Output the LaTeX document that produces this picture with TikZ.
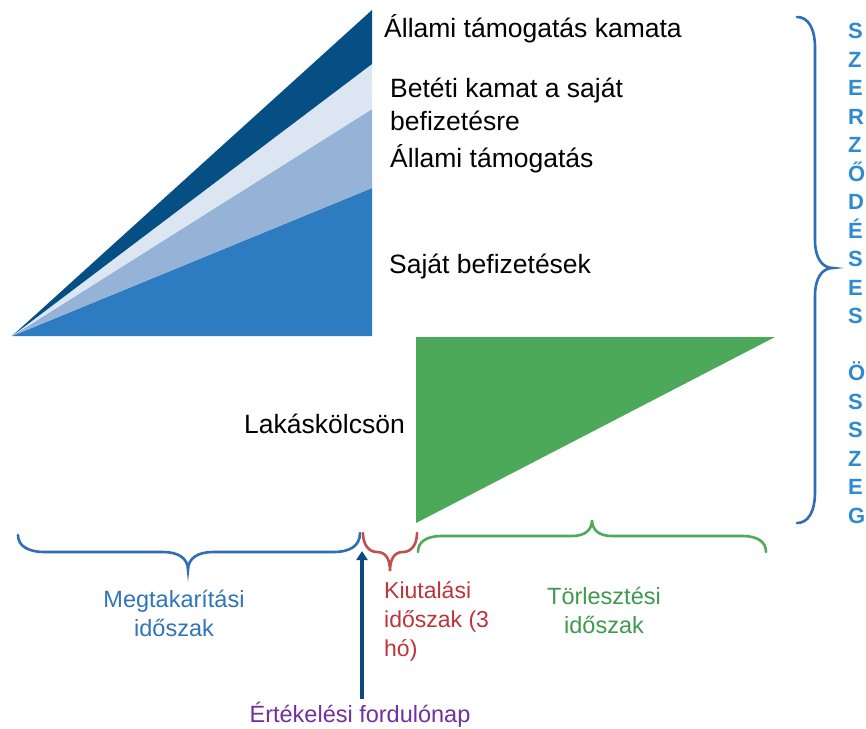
\documentclass[tikz,border=0pt]{standalone}
\usepackage{fontspec}
\setmainfont{Liberation Sans}
\usetikzlibrary{arrows.meta}
\definecolor{navy}{HTML}{064F85}
\definecolor{lightblue}{HTML}{DCE6F2}
\definecolor{medblue}{HTML}{95B3D7}
\definecolor{mainblue}{HTML}{2D7BC0}
\definecolor{fillgreen}{HTML}{4DA95A}
\definecolor{braceblue}{HTML}{2F6EB4}
\definecolor{bracered}{HTML}{C0504D}
\definecolor{bracegreen}{HTML}{4CAA58}
\definecolor{txtblue}{HTML}{2F75B8}
\definecolor{txtred}{HTML}{BE343A}
\definecolor{txtgreen}{HTML}{3E9A4C}
\definecolor{txtpurple}{HTML}{7030A0}
\definecolor{lettblue}{HTML}{2E8BCF}
\definecolor{arrownavy}{HTML}{0B4A7C}
\tikzset{
  toplab/.style={anchor=base west, inner sep=0pt, align=left, font=\fontsize{26.5}{33}\selectfont},
  botlab/.style={anchor=base, inner sep=0pt, align=center, font=\fontsize{23.5}{28.5}\selectfont},
  bracestyle/.style={line width=2.6pt, line cap=round},
}
\begin{document}
\begin{tikzpicture}[x=1pt,y=-1pt]
\useasboundingbox (0,0) rectangle (866,728);
\fill[white] (0,0) rectangle (866,728);
% stacked savings triangle
\fill[mainblue] (12,336) -- (372,188) -- (372,336) -- cycle;
\fill[medblue] (12,336) -- (372,109) -- (372,188) -- cycle;
\fill[lightblue] (12,336) -- (372,64) -- (372,109) -- cycle;
\fill[navy] (12,336) -- (372,10) -- (372,64) -- cycle;
% loan triangle
\fill[fillgreen] (416,337) -- (775,337) -- (416,523) -- cycle;
% labels (base anchor = baseline of the last line)
\node[toplab] (kamata) at (384,37) {Állami támogatás kamata};
\node[toplab] (betet) at (390,130) {Betéti kamat a saját\\befizetésre};
\node[toplab] (tam) at (390,167) {Állami támogatás};
\node[toplab] (sajat) at (389,273) {Saját befizetések};
\node[toplab] (lak) at (244,433) {Lakáskölcsön};
% right brace
\draw[bracestyle, braceblue] (797,17) .. controls (808,17) and (815,28) .. (815,48)
  -- (815,240) .. controls (815,258) and (822,268) .. (833,268)
  .. controls (822,268) and (815,278) .. (815,296)
  -- (815,492) .. controls (815,512) and (808,523) .. (797,523);
\node[anchor=base west, inner sep=0pt, align=left, text=lettblue,
  font=\fontsize{22}{28.5}\selectfont\bfseries] (szerz) at (848,523)
  {S\\Z\\E\\R\\Z\\Ő\\D\\É\\S\\E\\S\\[28.5pt]Ö\\S\\S\\Z\\E\\G};
% bottom braces
\draw[bracestyle, braceblue] (18,535) .. controls (18,546) and (28,552) .. (45,552)
  -- (163,552) .. controls (178,552) and (188,558) .. (188,570)
  .. controls (188,558) and (198,552) .. (213,552)
  -- (333,552) .. controls (350,552) and (360,546) .. (360,533);
\draw[bracestyle, bracered] (363,533) .. controls (363,545) and (369,552) .. (377,552)
  .. controls (385,552) and (390,558) .. (390,571)
  .. controls (390,558) and (395,552) .. (403,552)
  .. controls (411,552) and (417,545) .. (417,533);
\draw[bracestyle, bracegreen] (418,552) .. controls (418,542) and (426,536) .. (442,536)
  -- (572,536) .. controls (585,536) and (592,530) .. (592,520)
  .. controls (592,530) and (599,536) .. (612,536)
  -- (742,536) .. controls (758,536) and (766,542) .. (766,552);
% period labels
\node[botlab, text=txtblue] (megt) at (174,636) {Megtakarítási\\ időszak};
\node[anchor=base west, inner sep=0pt, align=left, text=txtred,
  font=\fontsize{23}{29}\selectfont] (kiut) at (384,656) {Kiutalási\\időszak (3\\hó)};
\node[botlab, text=txtgreen] (torl) at (604,633) {Törlesztési\\időszak};
\node[botlab, text=txtpurple] (ert) at (360,722) {Értékelési fordulónap};
% evaluation date arrow
\coordinate (arrTail) at (362,699);
\coordinate (arrHead) at (362,551);
\draw[arrownavy, line width=3.6pt, -{Triangle[width=11pt,length=9pt]}] (arrTail) -- (arrHead);
\end{tikzpicture}
\end{document}
